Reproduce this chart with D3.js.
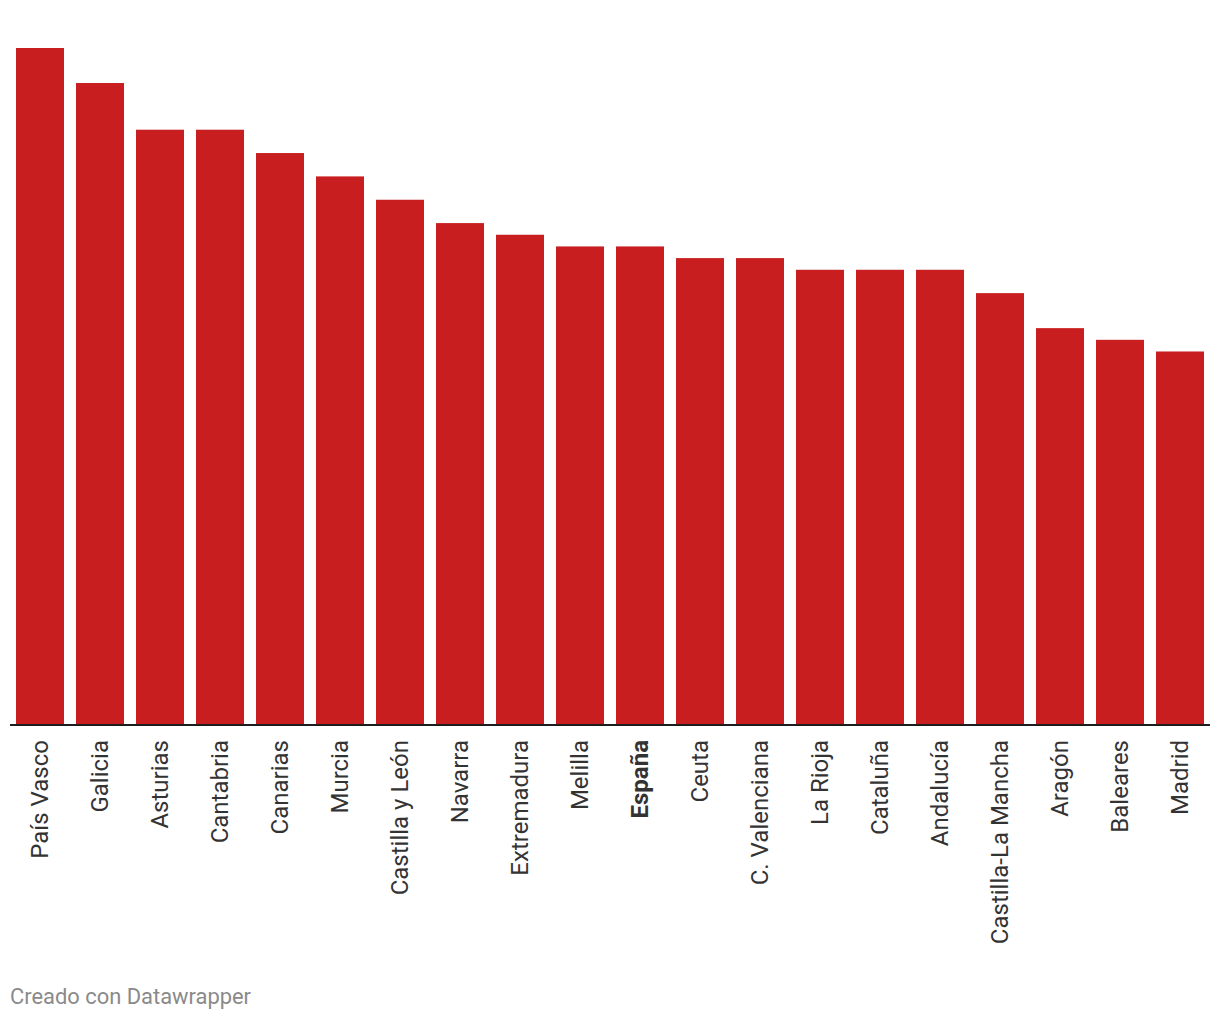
<!DOCTYPE html>
<html>
<head>
<meta charset="utf-8">
<script src="https://cdn.jsdelivr.net/npm/d3@7"></script>
<style>
  body { margin: 0; background: #fff; }
  text { font-family: Roboto, sans-serif; }
</style>
</head>
<body>
<div class="wrapper-svg"></div>
<script>
var regions = ['País Vasco', 'Galicia', 'Asturias', 'Cantabria', 'Canarias', 'Murcia',
    'Castilla y León', 'Navarra', 'Extremadura', 'Melilla', 'España', 'Ceuta',
    'C. Valenciana', 'La Rioja', 'Cataluña', 'Andalucía', 'Castilla-La Mancha',
    'Aragón', 'Baleares', 'Madrid'];
var values = [5.8, 5.5, 5.1, 5.1, 4.9, 4.7, 4.5, 4.3, 4.2, 4.1, 4.1, 4.0, 4.0,
    3.9, 3.9, 3.9, 3.7, 3.4, 3.3, 3.2];
var highlighted = ['España'];

var width = 1220, height = 1020;

var svg = d3.select('.wrapper-svg')
    .append('svg')
    .attr('width', width)
    .attr('height', height);

var x = d3.scaleBand()
    .domain(regions)
    .range([10, 1210])
    .paddingInner(0.2)
    .paddingOuter(0.1);

var y = d3.scaleLinear()
    .domain([0, d3.max(values)])
    .range([725, 48]);

svg.selectAll('rect.bar')
    .data(regions)
    .enter()
    .append('rect')
    .classed('bar', true)
    .attr('x', function(d) { return x(d); })
    .attr('y', function(d, i) { return y(values[i]); })
    .attr('width', x.bandwidth())
    .attr('height', function(d, i) { return y(0) - y(values[i]); })
    .attr('fill', '#c91e1f');

// eje inferior
var axis = svg.append('g')
    .attr('transform', 'translate(0,' + y(0) + ')')
    .call(d3.axisBottom(x).tickSize(0).tickPadding(0));

axis.select('.domain')
    .attr('d', 'M10,0H1210')
    .attr('stroke', '#1d1d1d')
    .attr('stroke-width', 2);

axis.selectAll('.tick text')
    .attr('transform', 'rotate(-90)')
    .attr('x', -15)
    .attr('y', 0)
    .attr('dy', '0.35em')
    .attr('text-anchor', 'end')
    .style('font-family', 'Roboto, sans-serif')
    .style('font-size', '24px')
    .style('fill', '#333')
    .style('font-weight', function(d) { return highlighted.indexOf(d) >= 0 ? 'bold' : 'normal'; });

svg.append('text')
    .text('Creado con Datawrapper')
    .attr('x', 10)
    .attr('y', 1004)
    .style('font-size', '21.9px')
    .style('fill', '#8a8a8a');
</script>
</body>
</html>
